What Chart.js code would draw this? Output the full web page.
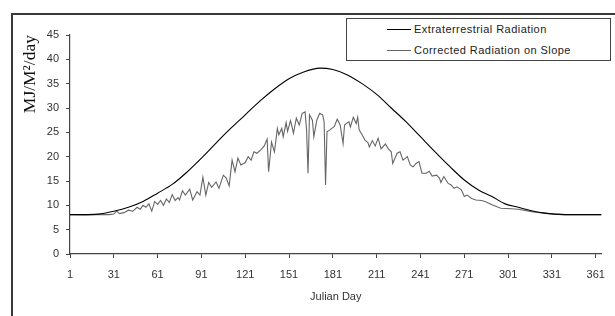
<!DOCTYPE html>
<html><head><meta charset="utf-8">
<script src="https://cdn.jsdelivr.net/npm/chart.js@4/dist/chart.umd.min.js"></script>
<style>
html,body{margin:0;padding:0;background:#fff;}
#wrap{position:relative;width:615px;height:316px;overflow:hidden;background:#fff;}
#frame{position:absolute;left:11px;top:13px;width:620px;height:320px;border-left:2px solid #3a3a3a;border-top:2px solid #3a3a3a;}
canvas{position:absolute;left:0;top:0;}
#legend{position:absolute;left:346px;top:18px;width:263px;height:41px;border:1.5px solid #444;background:#fff;font-family:"Liberation Sans",Arial,sans-serif;font-size:11px;color:#222;}
.row{position:absolute;left:0;width:100%;height:14px;line-height:14px;}
.sw{position:absolute;left:40px;top:7px;width:24px;height:0;}
.lbl{position:absolute;left:67px;top:0;white-space:nowrap;letter-spacing:0.45px;}
</style></head>
<body>
<div id="wrap">
<div id="frame"></div>
<canvas id="c" width="615" height="316"></canvas>
<div id="legend">
  <div class="row" style="top:3px"><div class="sw" style="border-top:1.2px solid #000"></div><div class="lbl">Extraterrestrial Radiation</div></div>
  <div class="row" style="top:24px"><div class="sw" style="border-top:1.2px solid #666"></div><div class="lbl">Corrected Radiation on Slope</div></div>
</div>
</div>
<script>
const seriesNames = ["Extraterrestrial Radiation", "Corrected Radiation on Slope"];
const xTickDays = [1,31,61,91,121,151,181,211,241,271,301,331,361];
const yTickValues = [0,5,10,15,20,25,30,35,40,45];

const extraDays = [1,10,20,31,41,51,61,71,81,91,101,111,121,131,141,151,161,172,181,191,201,211,221,231,241,251,261,271,281,290,299,308,317,326,333,340,365];
const extraValues = [8.1,8.1,8.2,8.8,9.6,10.8,12.5,14.3,16.8,19.7,22.8,25.8,28.6,31.4,33.9,36.0,37.4,38.2,37.9,36.8,35.0,32.8,30.0,27.2,24.1,21.0,18.0,15.2,13.1,11.8,10.3,9.6,8.9,8.4,8.2,8.1,8.1];

const corrDays = [1,10,20,28,31,33,35,38,41,44,47,49,51,53,55,57,59,61,63,65,67,69,71,73,75,76,78,80,83,85,88,90,92,94,96,98,101,103,106,108,110,112,114,116,118,121,123,125,127,129,132,134,136,137,139,141,143,144,146,147,149,150,152,153,154,156,158,160,162,163,164,165,167,168,170,172,174,175,176,177,179,182,184,186,188,189,192,193,195,197,198,199,201,203,205,206,208,210,212,214,217,219,221,222,225,227,229,232,234,236,238,240,242,245,247,249,252,254,255,257,260,262,264,266,269,271,273,276,279,283,286,290,296,303,308,317,326,333,338,365];
const corrValues = [8.1,8.0,8.1,8.1,8.2,8.8,8.3,8.5,9.0,8.8,9.6,9.2,10.0,9.6,10.3,8.8,10.8,10.2,11.0,10.0,11.3,10.6,12.2,11.0,11.6,11.1,13.0,12.1,13.3,11.1,12.8,12.1,15.8,12.1,14.7,13.7,14.8,13.5,16.2,15.6,14.0,19.3,16.9,19.7,18.3,18.8,20.0,19.3,21.0,20.7,21.5,22.2,23.6,16.9,23.0,21.0,25.8,24.5,25.8,24.1,27.0,25.2,27.4,26.2,24.8,27.9,26.5,28.9,29.2,25.5,16.6,28.6,27.5,24.1,27.5,28.9,28.6,27.2,14.2,25.1,25.5,26.2,27.7,26.5,22.7,26.5,27.2,26.1,28.1,26.8,28.1,25.5,24.5,23.4,22.9,22.0,23.3,22.2,23.8,21.6,22.6,21.6,21.0,18.6,20.7,21.0,19.3,20.0,18.3,17.9,18.6,19.0,16.6,16.6,17.0,16.0,16.2,15.6,14.7,15.9,14.5,14.2,13.5,13.8,13.2,11.8,12.1,11.4,11.1,11.0,10.7,10.1,9.4,9.3,9.2,8.7,8.4,8.2,8.1,8.1];

const toPts = (xs, ys) => xs.map((x, i) => ({x: x, y: ys[i]}));
const sans = '"Liberation Sans", Arial, sans-serif';

new Chart(document.getElementById('c'), {
  type: 'line',
  data: {
    datasets: [
      {label: seriesNames[0], data: toPts(extraDays, extraValues), borderColor: '#000', borderWidth: 1.1, pointRadius: 0, cubicInterpolationMode: 'monotone', fill: false},
      {label: seriesNames[1], data: toPts(corrDays, corrValues), borderColor: '#666', borderWidth: 1.1, pointRadius: 0, tension: 0, fill: false}
    ]
  },
  options: {
    responsive: false,
    animation: false,
    events: [],
    layout: {padding: {left: 14, right: 11, top: 35, bottom: 0}},
    plugins: {legend: {display: false}, tooltip: {enabled: false}},
    scales: {
      x: {
        type: 'linear', min: 1, max: 365,
        afterBuildTicks: s => { s.ticks = xTickDays.map(v => ({value: v})); },
        afterFit: s => { s.height = 62; },
        grid: {display: true, drawOnChartArea: false, drawTicks: true, tickLength: 4, color: '#444', lineWidth: 1},
        border: {display: true, color: '#444', width: 1.2},
        ticks: {padding: 10, color: '#333', font: {family: sans, size: 11}, maxRotation: 0, autoSkip: false, callback: v => String(v)},
        title: {display: true, text: 'Julian Day', color: '#333', font: {family: sans, size: 11}, padding: {top: 0, bottom: 12}}
      },
      y: {
        min: 0, max: 45,
        afterBuildTicks: s => { s.ticks = yTickValues.map(v => ({value: v})); },
        afterFit: s => { s.width = 56; },
        grid: {display: true, drawOnChartArea: false, drawTicks: true, tickLength: 4, color: '#444', lineWidth: 1},
        border: {display: true, color: '#444', width: 1.2},
        ticks: {padding: 7, color: '#333', font: {family: sans, size: 11}, callback: v => String(v)},
        title: {display: true, text: 'MJ/M²/day', align: 'end', color: '#111', font: {family: '"Liberation Serif", "Times New Roman", serif', size: 17.5}, padding: {top: 6, bottom: 0}}
      }
    }
  }
});
</script>
</body></html>
